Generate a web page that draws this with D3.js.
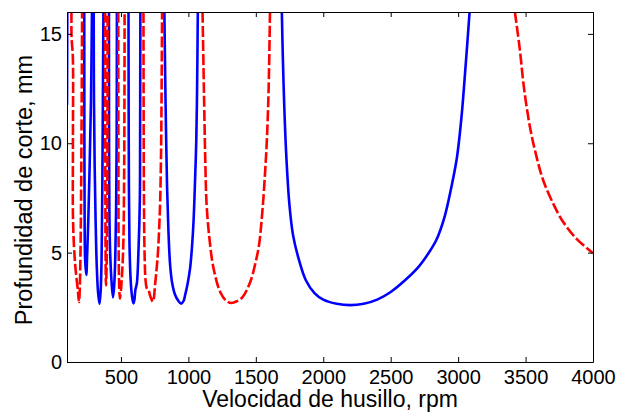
<!DOCTYPE html>
<html>
<head>
<meta charset="utf-8">
<script src="https://cdn.jsdelivr.net/npm/d3@7"></script>
<style>
  body { margin: 0; background: #fff; }
  svg text { font-family: "Liberation Sans", Arial, sans-serif; fill: #000; }
</style>
</head>
<body>
<svg id="chart"></svg>
<script>
// axis ticks
const xTicks = [500, 1000, 1500, 2000, 2500, 3000, 3500, 4000]
const yTicks = [0, 5, 10, 15]

// stability lobes, [rpm, mm] (blue = solid, red = dashed)
const blueEdge = [[100, 11.75], [101, 13.5], [102, 16]]
const redLobe1 = [[133, 16], [134, 14.8], [143, 14.0], [144, 10], [145, 6.4], [160, 4.5], [180, 3.3], [189, 2.74], [195, 3.4], [200, 5], [205, 8], [209, 12], [212, 16]]
const blueLobe2 = [[228, 16], [229, 10], [231, 6], [235, 4.6], [243, 3.98], [250, 5], [258, 6.5], [268, 9], [278, 12], [285, 16]]
const blueLobe3 = [[298, 16], [300, 12], [305, 9], [312, 6.5], [320, 4.5], [330, 3.2], [341, 2.65], [350, 3.3], [357, 5], [362, 8], [366, 12], [370, 16]]
const redLobe4 = [[383, 16], [384, 10], [386, 5], [389, 3.5], [394, 4.5], [398, 7], [400, 11], [401, 16]]
const blueLobe5 = [[411, 16], [412, 10], [414, 7], [420, 5], [430, 3.7], [441, 2.95], [450, 3.5], [458, 4.8], [464, 7], [468, 10], [470, 16]]
const redLobe6 = [[480, 16], [481, 10], [483, 5], [487, 3.5], [492, 2.9], [500, 3.3], [510, 4.2], [518, 5.5], [523, 8], [526, 12], [527, 16]]
const blueLobe7 = [[556, 16], [557, 12], [559, 8], [563, 5.5], [570, 4], [577, 3.3], [586, 2.85], [593, 2.68], [600, 2.85], [607, 3.3], [618, 3.6], [630, 5.1], [640, 7.4], [642, 10], [643, 13], [644, 16]]
const redLobe8 = [[667, 16], [668, 12], [670, 8], [675, 5], [683, 3.7], [693, 3.35], [704, 3.29], [718, 3.0], [737, 2.76], [754, 3.6], [765, 4.3], [774, 4.97], [784, 6.2], [791, 7.4], [796, 9], [799, 10.45], [802, 13], [805, 16]]
const blueLobe9 = [[822, 16], [826, 14], [833, 11], [842, 8], [852, 6], [865, 4.4], [880, 3.6], [902, 3.06], [925, 2.8], [947, 2.67], [965, 2.8], [976, 3.06], [995, 3.6], [1013, 4.3], [1026, 5.2], [1038, 6.4], [1050, 8.4], [1058, 10], [1063, 11.75], [1067, 14], [1070, 16]]
const redLobe10 = [[1105, 16], [1112, 13.5], [1118, 11.5], [1126, 9], [1135, 7.2], [1156, 5.65], [1186, 4.3], [1236, 3.2], [1280, 2.8], [1320, 2.7], [1360, 2.78], [1400, 2.95], [1458, 3.65], [1500, 4.6], [1525, 5.4], [1550, 7.0], [1570, 8.8], [1583, 10.3], [1595, 12.5], [1605, 16]]
const blueLobe11 = [[1693, 16], [1700, 14], [1712, 11.5], [1727, 9.3], [1749, 7.2], [1776, 5.8], [1816, 4.75], [1870, 3.75], [1935, 3.15], [2000, 2.85], [2100, 2.66], [2200, 2.6], [2300, 2.66], [2400, 2.85], [2500, 3.2], [2600, 3.7], [2700, 4.3], [2780, 4.97], [2840, 5.6], [2900, 6.65], [2950, 8.0], [2990, 9.3], [3025, 11.2], [3055, 13.5], [3085, 16]]
const redLobe12 = [[3421, 16], [3458, 14.26], [3487, 12.59], [3532, 10.76], [3581, 9.39], [3630, 8.32], [3704, 7.25], [3778, 6.41], [3880, 5.62], [4000, 4.98]]

const blueLobes = [blueEdge, blueLobe2, blueLobe3, blueLobe5, blueLobe7, blueLobe9, blueLobe11]
const redLobes = [redLobe1, redLobe4, redLobe6, redLobe8, redLobe10, redLobe12]

const dimensions = {
    width: 526,
    height: 350,
    margin: {top: 12, right: 25, bottom: 51, left: 67}
}

const svg = d3.select('#chart')
    .attr('width', 618)
    .attr('height', 413)

// scales
const xScale = d3.scaleLinear()
    .domain([100, 4000])
    .range([0, dimensions.width])
const yScale = d3.scaleLinear()
    .domain([0, 16])
    .range([dimensions.height, 0])

svg.append('defs').append('clipPath')
    .attr('id', 'plotClip')
    .append('rect')
    .attr('width', dimensions.width)
    .attr('height', dimensions.height)

const graph = svg.append('g')
    .attr('transform', `translate(${dimensions.margin.left}, ${dimensions.margin.top})`)

// smooth the hand-read points a little
const line = d3.line()
    .x(d => xScale(d[0]))
    .y(d => yScale(d[1]))
    .curve(d3.curveCatmullRom.alpha(0.5))

const lobes = graph.append('g').attr('clip-path', 'url(#plotClip)')

lobes.selectAll('.blueLobe')
    .data(blueLobes)
    .enter().append('path')
    .attr('class', 'blueLobe')
    .attr('fill', 'none')
    .attr('stroke', '#0000ff')
    .attr('stroke-width', 2.6)
    .attr('stroke-linejoin', 'round')
    .attr('d', line)

lobes.selectAll('.redLobe')
    .data(redLobes)
    .enter().append('path')
    .attr('class', 'redLobe')
    .attr('fill', 'none')
    .attr('stroke', '#ff0000')
    .attr('stroke-width', 2.6)
    .attr('stroke-dasharray', '11,3')
    .attr('d', line)

// axes with inward ticks on all four sides
const xAxis = d3.axisBottom(xScale).tickValues(xTicks).tickFormat(d3.format('d'))
    .tickSizeInner(-5).tickSizeOuter(0).tickPadding(8)
const yAxis = d3.axisLeft(yScale).tickValues(yTicks).tickFormat(d3.format('d'))
    .tickSizeInner(-5).tickSizeOuter(0).tickPadding(5)
const xAxisTop = d3.axisTop(xScale).tickValues(xTicks).tickSizeInner(-5).tickSizeOuter(0).tickFormat('')
const yAxisRight = d3.axisRight(yScale).tickValues(yTicks).tickSizeInner(-5).tickSizeOuter(0).tickFormat('')

graph.append('g').attr('transform', `translate(0, ${dimensions.height})`).call(xAxis)
graph.append('g').call(yAxis)
graph.append('g').call(xAxisTop)
graph.append('g').attr('transform', `translate(${dimensions.width}, 0)`).call(yAxisRight)

graph.selectAll('.tick text')
    .style('font-size', '20px')
    .style('font-family', '"Liberation Sans", Arial, sans-serif')
graph.selectAll('.domain, .tick line').attr('stroke', '#000')

// axis titles
svg.append('text')
    .attr('x', dimensions.margin.left + dimensions.width / 2)
    .attr('y', 407)
    .attr('text-anchor', 'middle')
    .style('font-size', '23px')
    .text('Velocidad de husillo, rpm')

svg.append('text')
    .attr('transform', `translate(32, 190) rotate(-90)`)
    .attr('text-anchor', 'middle')
    .style('font-size', '23.5px')
    .text('Profundidad de corte, mm')
</script>
</body>
</html>
